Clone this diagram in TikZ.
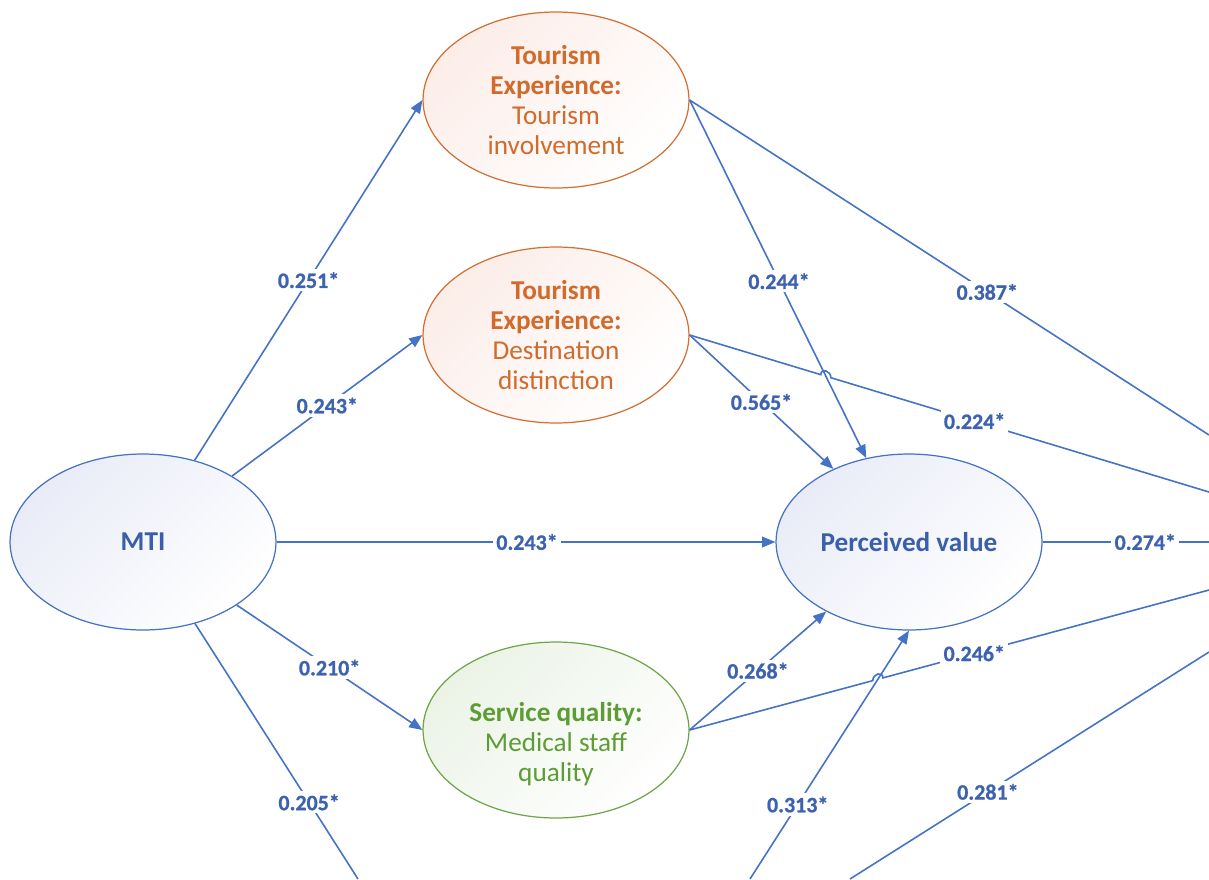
\documentclass[tikz,border=0pt]{standalone}
\usepackage{fontspec}
\setmainfont{Carlito}
\newfontfamily\lblfont[FakeBold=0.8]{Carlito}
\usetikzlibrary{arrows.meta,calc,intersections,shapes.geometric}

\definecolor{edgeblue}{HTML}{4472C4}
\definecolor{txtblue}{HTML}{3B5EAB}
\definecolor{lblblue}{HTML}{3C62B0}
\definecolor{orgline}{HTML}{D27034}
\definecolor{orgtxt}{HTML}{D06B2C}
\definecolor{grnline}{HTML}{70A448}
\definecolor{grntxt}{HTML}{5E9C36}
\definecolor{bluefill}{HTML}{E9ECF7}
\definecolor{orgfill}{HTML}{FCEDE8}
\definecolor{grnfill}{HTML}{EBF3E6}

\tikzset{
  construct/.style={ellipse, minimum width=5.32cm, minimum height=3.52cm,
    inner sep=0pt, line width=0.7pt, align=center,
    font=\fontsize{15.5}{17}\selectfont},
  bluenode/.style={construct, draw=edgeblue, text=txtblue,
    top color=bluefill, bottom color=white, shading angle=45},
  orgnode/.style={construct, draw=orgline, text=orgtxt,
    top color=orgfill, bottom color=white, shading angle=45},
  grnnode/.style={construct, draw=grnline, text=grntxt,
    top color=grnfill, bottom color=white, shading angle=45},
  nodetext/.style={align=center, inner sep=0pt,
    font=\fontsize{15.5}{17}\selectfont},
  path/.style={draw=edgeblue, line width=0.9pt},
  arr/.style={path, -{Triangle[length=7.5pt,width=6pt]}},
  lbl/.style={fill=white, inner sep=1.8pt, text=lblblue,
    font=\lblfont\bfseries\fontsize{12.5}{13}\selectfont},
}

\begin{document}
\begin{tikzpicture}[x=0.02cm, y=-0.02cm]
\useasboundingbox (0,0) rectangle (1209,879);
\clip (0,0) rectangle (1209,879);

% constructs
\node[bluenode] (mti) at (143,542) {\textbf{MTI}};
\node[orgnode] (ti) at (556,100)
  {\textbf{Tourism}\\\textbf{Experience:}\\Tourism\\involvement};
\node[orgnode] (dd) at (556,335)
  {\textbf{Tourism}\\\textbf{Experience:}\\Destination\\distinction};
\node[grnnode] (sq) at (556,730) {};
\node[nodetext, text=grntxt] (sqtext) at (556,744)
  {\textbf{Service quality:}\\Medical staff\\quality};
\node[bluenode] (pv) at (909,542) {\textbf{Perceived value}};

% loose ends leaving the frame
\coordinate (mtiB) at (358,879);
\coordinate (tiR) at (1209,435);
\coordinate (ddR) at (1209,492);
\coordinate (pvR) at (1209,542);
\coordinate (sqR) at (1209,590);
\coordinate (b1) at (750,879);
\coordinate (b2) at (850,879);
\coordinate (b2R) at (1209,652);

% crossing points for the line hops
\path[name path=tipv] (ti.east) -- (pv.117);
\path[name path=ddr] (dd.east) -- (ddR);
\path[name intersections={of=tipv and ddr, by=h1}];
\path[name path=bpv] (b1) -- (pv.south);
\path[name path=sqr] (sq.east) -- (sqR);
\path[name intersections={of=bpv and sqr, by=h2}];

% paths from MTI
\draw[arr] (mti) -- node[lbl,pos=0.5]{0.251*} (ti.west);
\draw[arr] (mti) -- node[lbl,pos=0.5]{0.243*} (dd.west);
\draw[arr] (mti.east) -- node[lbl,pos=0.502]{0.243*} (pv.west);
\draw[arr] (mti) -- node[lbl,pos=0.5]{0.210*} (sq.west);
\draw[path] (mti) -- node[lbl,pos=0.70]{0.205*} (mtiB);

% paths from tourism involvement
\draw[arr] (ti.east) -- node[lbl,pos=0.506]{0.244*} (pv.117);
\draw[path] (ti.east) -- node[lbl,pos=0.573]{0.387*} (tiR);

% paths from destination distinction
\draw[arr] (dd.east) -- node[lbl,pos=0.5]{0.565*} (pv.136);
\draw[path] (dd.east) -- ($(h1)!3pt!(dd.east)$)
  .. controls ($(h1)!3pt!(dd.east)+(0,4pt)$) and ($(h1)!3pt!(ddR)+(0,4pt)$)
  .. ($(h1)!3pt!(ddR)$) -- node[lbl,pos=0.38]{0.224*} (ddR);

% paths from perceived value
\draw[path] (pv.east) -- node[lbl,pos=0.617]{0.274*} (pvR);

% paths from medical staff quality
\draw[arr] (sq.east) -- node[lbl,pos=0.5]{0.268*} (pv.220);

% incoming from below
\draw[arr] (b1) -- node[lbl,pos=0.30]{0.313*} (pv.south);
\draw[path] (sq.east) -- ($(h2)!3pt!(sq.east)$)
  .. controls ($(h2)!3pt!(sq.east)+(0,4pt)$) and ($(h2)!3pt!(sqR)+(0,4pt)$)
  .. ($(h2)!3pt!(sqR)$) -- node[lbl,pos=0.28]{0.246*} (sqR);
\draw[path] (b2) -- node[lbl,pos=0.384]{0.281*} (b2R);
\end{tikzpicture}
\end{document}
